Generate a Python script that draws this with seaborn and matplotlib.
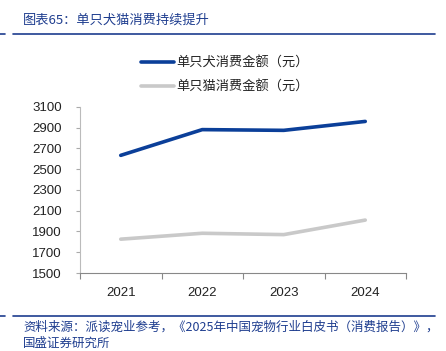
import pandas as pd
import seaborn as sns
import matplotlib.pyplot as plt
from matplotlib.lines import Line2D

# 数据：单只犬猫年消费金额（元）
years = ["2021", "2022", "2023", "2024"]
dog = [2634, 2882, 2875, 2961]
cat = [1826, 1883, 1870, 2010]
series = ["单只犬消费金额（元）", "单只猫消费金额（元）"]
yticks = list(range(1500, 3101, 200))

df = pd.DataFrame({
    "年份": years * 2,
    "金额": dog + cat,
    "类别": [series[0]] * 4 + [series[1]] * 4,
})

sns.set_theme(style="white")
plt.rcParams["font.family"] = ["Noto Sans CJK SC", "DejaVu Sans"]

blue = "#0b3f99"
grey = "#c9c9c9"
title_c = "#1e3d8f"

fig = plt.figure(figsize=(4.46, 3.51), dpi=100)
ax = fig.add_axes([80 / 446, 1 - 273 / 351, 326 / 446, 166 / 351])

sns.lineplot(data=df, x="年份", y="金额", hue="类别", palette=[blue, grey],
             linewidth=2.6, ax=ax, legend=False, sort=False)

ax.set_xlim(-0.5, 3.5)
ax.set_ylim(1500, 3100)
ax.set_yticks(yticks)
ax.set_xticks(range(len(years)))
ax.set_xticklabels(years)
ax.set_xticks([i + 0.5 for i in range(-1, 4)], minor=True)
ax.set_xlabel("")
ax.set_ylabel("")

for lab in ax.get_xticklabels() + ax.get_yticklabels():
    lab.set_fontfamily(["Liberation Sans", "DejaVu Sans"])
    lab.set_fontsize(9.5)
    lab.set_color("#222222")

ax.tick_params(axis="x", which="major", length=0, pad=10)
ax.tick_params(axis="x", which="minor", bottom=True, length=4, color="#888888", width=0.8)
ax.tick_params(axis="y", left=True, length=3, color="#aaaaaa", width=0.8, pad=10)

for s in ["top", "right"]:
    ax.spines[s].set_visible(False)
ax.spines["left"].set_color("#bbbbbb")
ax.spines["bottom"].set_color("#888888")
ax.spines["left"].set_linewidth(0.8)
ax.spines["bottom"].set_linewidth(0.8)

handles = [Line2D([0], [0], color=blue, lw=2.6), Line2D([0], [0], color=grey, lw=2.6)]
fig.legend(handles, series, loc="center left", bbox_to_anchor=(129 / 446, 1 - 75 / 351),
           frameon=False, handlelength=2.5, handletextpad=0.15, labelspacing=0.85,
           prop={"size": 9.5}, labelcolor="#222222")

# 标题与来源
fig.text(23 / 446, 1 - 20 / 351, "图表65：单只犬猫消费持续提升", color=title_c,
         fontsize=9.5, style="italic", va="center", ha="left")
for yy in [34, 316]:
    fig.add_artist(Line2D([0, 5 / 446], [1 - yy / 351] * 2, color=title_c, lw=1.2))
    fig.add_artist(Line2D([13 / 446, 435 / 446], [1 - yy / 351] * 2, color=title_c, lw=1.2))

fig.text(23 / 446, 1 - 327 / 351, "资料来源：派读宠业参考，《2025年中国宠物行业白皮书（消费报告）》，",
         color=title_c, fontsize=9, style="italic", va="center", ha="left")
fig.text(23 / 446, 1 - 343 / 351, "国盛证券研究所",
         color=title_c, fontsize=9, style="italic", va="center", ha="left")

fig.savefig("out.png", dpi=100)
